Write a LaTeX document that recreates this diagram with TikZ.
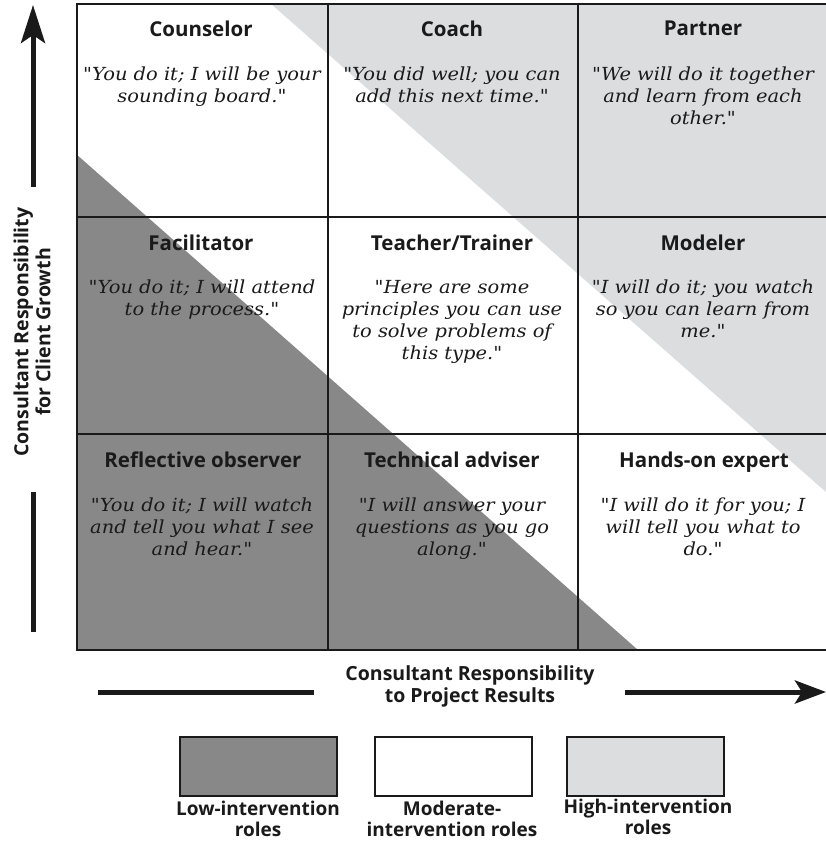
\documentclass[tikz,border=0pt]{standalone}
\usepackage{fontspec}
\setmainfont{DejaVu Serif}[Ligatures=TeXOff, FakeStretch=1.08]
\setsansfont{Open Sans}
\usetikzlibrary{arrows.meta}
\definecolor{darkfill}{RGB}{136,136,136}
\definecolor{lightfill}{RGB}{220,221,223}
\definecolor{ink}{RGB}{26,26,26}
\begin{document}
\begin{tikzpicture}[x=1pt,y=-1pt,
  title/.style={font=\sffamily\bfseries\fontsize{20.5}{24}\selectfont, text=ink, inner sep=0, anchor=north},
  quote/.style={font=\itshape\fontsize{18}{22}\selectfont, align=center, text=ink, inner sep=0, anchor=north},
  axislabel/.style={font=\sffamily\bfseries\fontsize{19.5}{22}\selectfont, align=center, text=ink, inner sep=0},
  legendlabel/.style={font=\sffamily\bfseries\fontsize{19}{21}\selectfont, align=center, text=ink, inner sep=0},
  gridline/.style={line width=2pt, draw=ink},
  axisline/.style={line width=5pt, draw=ink},
  legendbox/.style={draw=ink, line width=1.5pt, minimum width=157pt, minimum height=59pt, inner sep=0}
]
\useasboundingbox (0,0) rectangle (826,841);
\fill[white] (0,0) rectangle (826,841);

% shaded regions
\fill[darkfill] (76,154) -- (638,650) -- (76,650) -- cycle;
\fill[lightfill] (270,3) -- (826,3) -- (826,492) -- cycle;

% grid
\draw[gridline] (76,3.5) -- (826,3.5);
\draw[gridline] (76,217) -- (826,217);
\draw[gridline] (76,433.5) -- (826,433.5);
\draw[gridline] (76,650) -- (826,650);
\draw[gridline] (76.5,2.5) -- (76.5,651);
\draw[gridline] (327.5,2.5) -- (327.5,651);
\draw[gridline] (578,2.5) -- (578,651);

% row 1
\node[title] (t11) at (201,21) {Counselor};
\node[quote] (q11) at (202,67) {"You do it; I will be your\\sounding board."};
\node[title] (t12) at (452,21) {Coach};
\node[quote] (q12) at (452,67) {"You did well; you can\\add this next time."};
\node[title] (t13) at (703,21) {Partner};
\node[quote] (q13) at (703,67) {"We will do it together\\and learn from each\\other."};
% row 2
\node[title] (t21) at (201,235) {Facilitator};
\node[quote] (q21) at (202,280) {"You do it; I will attend\\to the process."};
\node[title] (t22) at (452,235) {Teacher/Trainer};
\node[quote] (q22) at (452,280) {"Here are some\\principles you can use\\to solve problems of\\this type."};
\node[title] (t23) at (703,235) {Modeler};
\node[quote] (q23) at (703,280) {"I will do it; you watch\\so you can learn from\\me."};
% row 3
\node[title] (t31) at (203,452) {Reflective observer};
\node[quote] (q31) at (202,498) {"You do it; I will watch\\and tell you what I see\\and hear."};
\node[title] (t32) at (452,452) {Technical adviser};
\node[quote] (q32) at (452,498) {"I will answer your\\questions as you go\\along."};
\node[title] (t33) at (704,452) {Hands-on expert};
\node[quote] (q33) at (703,498) {"I will do it for you; I\\will tell you what to\\do."};

% vertical axis
\coordinate (vb) at (33,187);
\coordinate (vt) at (33,5);
\coordinate (vl1) at (33,492);
\coordinate (vl2) at (33,632);
\draw[axisline, -{Stealth[length=38pt,width=24pt,inset=8pt]}] (vb) -- (vt);
\draw[axisline] (vl1) -- (vl2);
\node[axislabel, rotate=90] (vlabel) at (32,332) {Consultant Responsibility\\for Client Growth};

% horizontal axis
\coordinate (hl1) at (98,692);
\coordinate (hl2) at (314,692);
\coordinate (hr1) at (625,692);
\coordinate (hr2) at (826,692);
\draw[axisline] (hl1) -- (hl2);
\draw[axisline, -{Stealth[length=31pt,width=23pt,inset=7pt]}] (hr1) -- (hr2);
\node[axislabel] (hlabel) at (470,686) {Consultant Responsibility\\to Project Results};

% legend
\node[legendbox, fill=darkfill] (lg1) at (258.5,766.5) {};
\node[legendbox, fill=white] (lg2) at (453.5,766.5) {};
\node[legendbox, fill=lightfill] (lg3) at (645.5,766.5) {};
\node[legendlabel] (ll1) at (258,818.5) {Low-intervention\\roles};
\node[legendlabel] (ll2) at (452,818.5) {Moderate-\\intervention roles};
\node[legendlabel] (ll3) at (648,816.5) {High-intervention\\roles};
\end{tikzpicture}
\end{document}
